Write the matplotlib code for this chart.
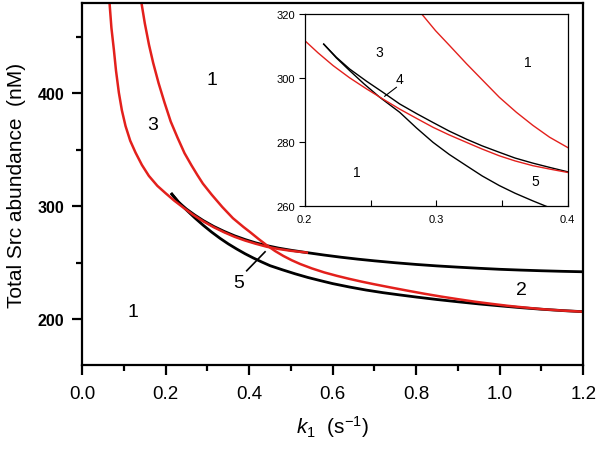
import numpy as np
from matplotlib import pyplot as plt
from matplotlib.ticker import MultipleLocator

plt.rcParams['font.family'] = ['Liberation Sans', 'DejaVu Sans']
plt.rcParams['mathtext.fontset'] = 'custom'
plt.rcParams['mathtext.rm'] = 'Liberation Sans'
plt.rcParams['mathtext.it'] = 'Liberation Sans:italic'

# main panel, values
red1_k = [0.0655, 0.070, 0.0758, 0.081, 0.0878, 0.095, 0.1038, 0.115, 0.1277, 0.143, 0.1597, 0.18,
          0.1996, 0.22, 0.243, 0.265, 0.29, 0.315, 0.34, 0.365, 0.39, 0.415, 0.442, 0.47, 0.50, 0.538]
red1_y = [480, 458, 438.9, 420, 400.6, 385, 371, 358, 347.5, 336.5, 326.8, 318,
          311.5, 305, 298.5, 292.5, 286.5, 281.3, 276.8, 272.8, 269.5, 266.7, 264, 262, 260.4, 258.8]

red2_k = [0.142, 0.150, 0.160, 0.170, 0.183, 0.197, 0.212, 0.228, 0.245, 0.262, 0.276, 0.289, 0.3103,
          0.3356, 0.361, 0.3863, 0.402, 0.422, 0.442, 0.462, 0.482, 0.502, 0.522, 0.55, 0.58, 0.61,
          0.64, 0.67, 0.70, 0.74, 0.78, 0.82, 0.86, 0.90, 0.94, 0.98, 1.02, 1.06, 1.10, 1.15, 1.2]
red2_y = [480, 462, 443, 427, 409, 392, 375, 361, 347, 336, 327.5, 320, 310.1,
          299.2, 289.3, 281.5, 277, 271, 265.3, 260.2, 255.8, 252, 248.7, 244.8, 241.2, 238.2,
          235.5, 233, 230.7, 227.8, 225, 222.3, 219.8, 217.5, 215.3, 213.4, 211.6, 210.1, 208.7, 207.4, 206.4]

blk_up_k = [0.2148, 0.23, 0.25, 0.27, 0.29, 0.315, 0.34, 0.365, 0.39, 0.415, 0.442, 0.47, 0.50, 0.538,
            0.58, 0.62, 0.66, 0.70, 0.75, 0.80, 0.85, 0.90, 0.95, 1.0, 1.05, 1.10, 1.15, 1.2]
blk_up_y = [310.6, 303.5, 297.3, 292, 287.2, 282, 277.6, 273.7, 270.4, 267.5, 265, 262.8, 260.9, 258.8,
            256.6, 254.7, 253, 251.5, 249.8, 248.3, 247, 245.9, 244.9, 244, 243.3, 242.7, 242.2, 241.8]

blk_lo_k = [0.2148, 0.23, 0.25, 0.27, 0.29, 0.31, 0.33, 0.35, 0.37, 0.39, 0.41, 0.43, 0.45, 0.48,
            0.51, 0.54, 0.57, 0.60, 0.64, 0.68, 0.72, 0.76, 0.80, 0.85, 0.90, 0.95, 1.0, 1.05,
            1.10, 1.15, 1.2]
blk_lo_y = [310.6, 304, 296.5, 289.5, 283, 277, 271.5, 266.5, 262, 257.8, 254, 250.5, 247.2, 243.5,
            240, 236.8, 234, 231.3, 228.3, 225.6, 223.3, 221.3, 219.4, 217.2, 215.2, 213.3, 211.6, 210,
            208.6, 207.4, 206.4]

# inset, values
in_red1_k = [0.2, 0.21, 0.2215, 0.234, 0.247, 0.26, 0.2722, 0.285, 0.2976, 0.31, 0.323, 0.335, 0.348,
             0.36, 0.3736, 0.387, 0.4]
in_red1_y = [311.7, 307.9, 303.9, 300.1, 296.6, 293.3, 290.3, 287.4, 284.6, 282.2, 279.9, 277.8, 275.7,
             274.1, 272.6, 271.5, 270.5]
in_red2_k = [0.289, 0.2995, 0.3103, 0.323, 0.3356, 0.348, 0.361, 0.3736, 0.3863, 0.4]
in_red2_y = [320, 314.8, 310.1, 304.5, 299.2, 294, 289.3, 285.2, 281.5, 278.3]
in_up_k = [0.2144, 0.224, 0.2342, 0.247, 0.2596, 0.2722, 0.285, 0.2976, 0.31, 0.323, 0.335, 0.348,
           0.36, 0.3736, 0.387, 0.4]
in_up_y = [310.6, 306.5, 302.8, 299, 295.5, 291.9, 288.9, 286.1, 283.4, 280.9, 278.8, 276.8,
           275, 273.4, 272, 270.7]
in_lo_k = [0.2144, 0.224, 0.2342, 0.245, 0.257, 0.2722, 0.285, 0.2976, 0.31, 0.323, 0.335, 0.348,
           0.36, 0.3736, 0.385]
in_lo_y = [310.6, 306.3, 302.3, 298.2, 294, 289.3, 284.4, 279.9, 276.1, 272.6, 269.4, 266.4,
           264.0, 261.6, 259.7]

# region labels
main_labels = [('1', 0.311, 412), ('3', 0.168, 372.6), ('1', 0.122, 207), ('2', 1.051, 225.7),
               ('5', 0.374, 232.7)]
inset_labels = [('3', 0.257, 308), ('1', 0.3698, 304.9), ('1', 0.2398, 270.7), ('5', 0.3757, 267.9),
                ('4', 0.2722, 299.6)]
tick5_k = [0.394, 0.438]
tick5_y = [242.7, 259.5]
tick4_k = [0.2697, 0.2608]
tick4_y = [297.1, 294.3]

RED = '#e3201c'

fig = plt.figure(figsize=(6, 4.56), dpi=100)
ax = fig.add_axes([0.137, 0.197, 0.835, 0.794])

ax.plot(blk_up_k, blk_up_y, color='k', lw=2.0)
ax.plot(blk_lo_k, blk_lo_y, color='k', lw=2.0)
ax.plot(red1_k, red1_y, color=RED, lw=1.8)
ax.plot(red2_k, red2_y, color=RED, lw=1.8)
ax.plot(tick5_k, tick5_y, color='k', lw=1.2)

for s, x, y in main_labels:
    ax.text(x, y, s, fontsize=14, ha='center', va='center')

ax.set_xlim(0, 1.2)
ax.set_ylim(159, 480)
ax.xaxis.set_major_locator(MultipleLocator(0.2))
ax.xaxis.set_minor_locator(MultipleLocator(0.1))
ax.yaxis.set_major_locator(MultipleLocator(100))
ax.yaxis.set_minor_locator(MultipleLocator(50))
ax.xaxis.set_major_formatter(plt.FuncFormatter(lambda v, p: '%.1f' % v))
for sp in ax.spines.values():
    sp.set_linewidth(1.6)
ax.tick_params(which='major', direction='out', length=7, width=1.6)
ax.tick_params(which='minor', direction='out', length=4, width=1.6)
ax.tick_params(axis='x', labelsize=13.5, pad=7)
ax.tick_params(axis='y', labelsize=11.5, pad=6)
for t in ax.get_yticklabels():
    t.set_fontweight('bold')
ax.set_xlabel('$k_1$  (s$^{-1}$)', fontsize=15, labelpad=8)
ax.set_ylabel('Total Src abundance  (nM)', fontsize=15, labelpad=8)

# inset
ins = fig.add_axes([0.508, 0.546, 0.438, 0.421])
ins.set_facecolor('white')
ins.plot(in_up_k, in_up_y, color='k', lw=1.0)
ins.plot(in_lo_k, in_lo_y, color='k', lw=1.0)
ins.plot(in_red1_k, in_red1_y, color=RED, lw=1.0)
ins.plot(in_red2_k, in_red2_y, color=RED, lw=1.0)
ins.plot(tick4_k, tick4_y, color='k', lw=0.8)
for s, x, y in inset_labels:
    ins.text(x, y, s, fontsize=10, ha='center', va='center')
ins.set_xlim(0.2, 0.4)
ins.set_ylim(260, 320)
ins.xaxis.set_major_locator(MultipleLocator(0.1))
ins.xaxis.set_minor_locator(MultipleLocator(0.05))
ins.yaxis.set_major_locator(MultipleLocator(20))
for sp in ins.spines.values():
    sp.set_linewidth(0.9)
ins.tick_params(axis='x', which='both', direction='in', length=4, width=0.8, labelsize=8, pad=6)
ins.tick_params(axis='y', direction='out', length=4, width=0.8, labelsize=8, pad=3)

fig.savefig('out.png', dpi=100)
